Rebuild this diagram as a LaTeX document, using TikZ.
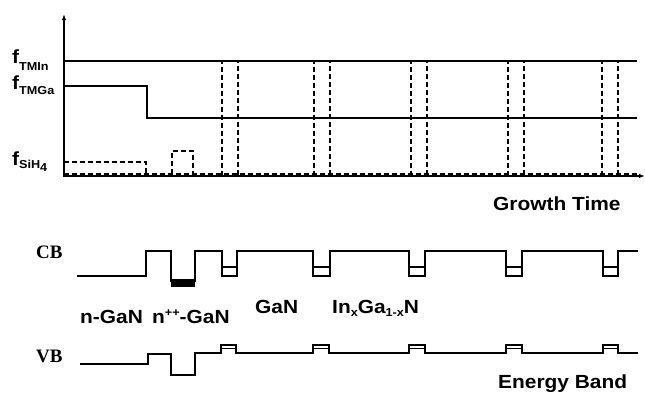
\documentclass[tikz,border=0pt]{standalone}
\usepackage{fontspec}
\setmainfont{Liberation Sans}[FakeStretch=1.1]
\newfontfamily\serifb{Liberation Serif}
\usetikzlibrary{arrows.meta}
\newcommand{\bigf}{{\fontsize{19}{19}\selectfont f}}
\newcommand{\smalltxt}[1]{{\fontsize{11.5}{11.5}\selectfont #1}}
\begin{document}
\begin{tikzpicture}[x=1pt,y=-1pt]
\useasboundingbox (0,0) rectangle (645,392);
\tikzset{
  lbl/.style={font=\fontsize{19}{19}\selectfont\bfseries, inner sep=0pt, anchor=base west},
  flbl/.style={font=\bfseries, inner sep=0pt, anchor=base west},
  bandlbl/.style={font=\serifb\fontsize{19}{19}\selectfont\bfseries, inner sep=0pt, anchor=base west},
  well/.style={dash pattern=on 5pt off 3pt, line width=1.3pt},
  band/.style={line width=1.6pt},
  axis/.style={line width=1.8pt, -{Latex[length=6pt,width=4.5pt]}},
}
% axes
\draw[axis] (64,177) -- (64,14);
\draw[axis] (63,176) -- (645,176);
% flows
\draw[line width=1.2pt] (64,61) -- (637,61);
\draw[line width=2.2pt] (64,86) -- (147,86) -- (147,118) -- (637,118);
\draw[well] (64,162) -- (146,162) -- (146,174);
\draw[well] (64,174) -- (640,174);
\draw[well] (172,174) -- (172,151) -- (193,151) -- (193,174);
\foreach \a/\b in {222/238,314/330,411/427,508/524,602/618}
  \draw[well] (\a,176) -- (\a,61) -- (\b,61) -- (\b,176);
% f labels
\node[flbl] (ftmin) at (12,63) {\bigf\raisebox{-7pt}{\smalltxt{TMIn}}};
\node[flbl] (ftmga) at (12,89) {\bigf\raisebox{-5pt}{\smalltxt{TMGa}}};
\node[flbl] (fsih) at (12,165) {\bigf\raisebox{-3pt}{\smalltxt{SiH\raisebox{-3pt}{4}}}};
\node[lbl] (gt) at (493,210) {Growth Time};
% CB
\node[bandlbl] (cb) at (36,258) {CB};
\node[bandlbl] (vb) at (36,362) {VB};
\fill (171,279) rectangle (195,287);
\draw[band] (77,276) -- (146,276) -- (146,251) -- (171,251) -- (171,281) -- (195,281) -- (195,251)
  -- (222,251) -- (222,276) -- (237,276) -- (237,251)
  -- (313,251) -- (313,276) -- (330,276) -- (330,251)
  -- (409,251) -- (409,276) -- (425,276) -- (425,251)
  -- (506,251) -- (506,276) -- (522,276) -- (522,251)
  -- (603,251) -- (603,276) -- (618,276) -- (618,251) -- (638,251);
\foreach \a/\b in {222/237,313/330,409/425,506/522,603/618}
  \draw[line width=1.2pt] (\a,267) -- (\b,267);
% VB
\draw[band] (80,364) -- (148,364) -- (148,354) -- (171,354) -- (171,375) -- (195,375) -- (195,353)
  -- (221,353) -- (221,345) -- (236,345) -- (236,353)
  -- (313,353) -- (313,345) -- (329,345) -- (329,353)
  -- (409,353) -- (409,345) -- (425,345) -- (425,353)
  -- (506,353) -- (506,345) -- (522,345) -- (522,353)
  -- (603,353) -- (603,345) -- (618,345) -- (618,353) -- (638,353);
\foreach \a/\b in {221/236,313/329,409/425,506/522,603/618}
  \draw[line width=1.2pt] (\a,348.5) -- (\b,348.5);
% layer labels
\node[lbl] (ngan) at (80,323) {n-GaN};
\node[lbl] (nppgan) at (152,323) {n\raisebox{7pt}{\smalltxt{++}}-GaN};
\node[lbl] (gan) at (255,313) {GaN};
\node[lbl] (ingan) at (332,313) {In\raisebox{-3pt}{\smalltxt{x}}Ga\raisebox{-3pt}{\smalltxt{1-x}}N};
\node[lbl] (eb) at (498,388) {Energy Band};
\end{tikzpicture}
\end{document}
